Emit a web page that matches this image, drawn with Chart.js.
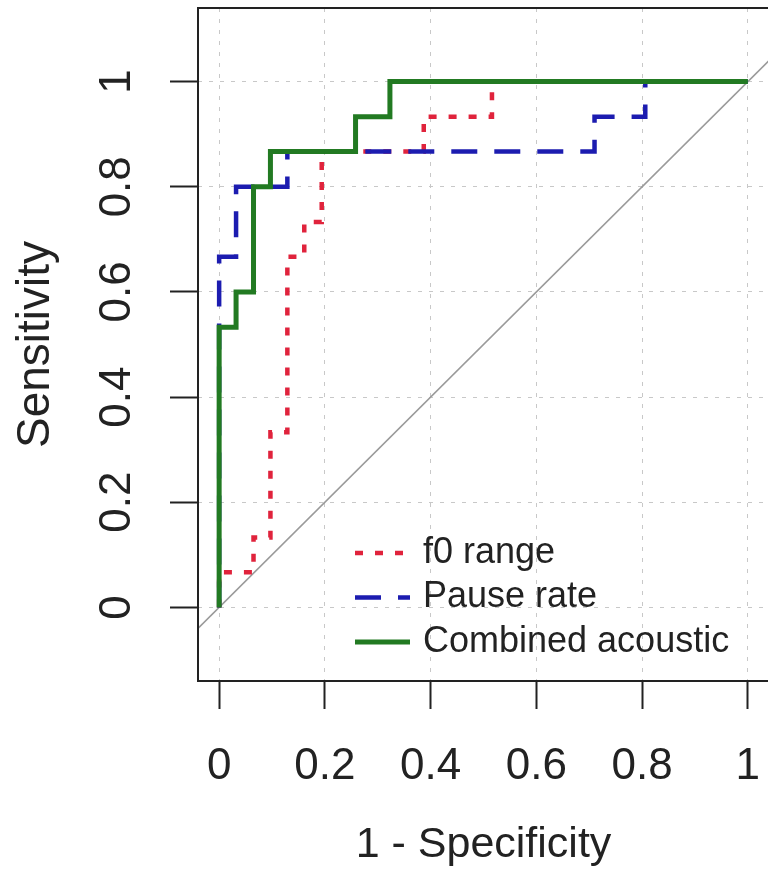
<!DOCTYPE html>
<html>
<head>
<meta charset="utf-8">
<script src="https://cdn.jsdelivr.net/npm/chart.js@4.4.0/dist/chart.umd.min.js"></script>
<style>
  html, body { margin: 0; padding: 0; background: #fff; overflow: hidden; }
  #wrap { width: 772px; height: 873px; }
</style>
</head>
<body>
<div id="wrap"><canvas id="roc" width="772" height="873"></canvas></div>
<script>
// ROC curves, x = 1 - specificity, y = sensitivity (staircase corners)
const f0FPR    = [0, 0, 0.065, 0.097, 0.129, 0.161, 0.194, 0.387, 0.516, 1];
const f0TPR    = [0, 0.067, 0.133, 0.333, 0.667, 0.733, 0.867, 0.933, 1, 1];
const pauseFPR = [0, 0, 0.032, 0.129, 0.71, 0.806, 1];
const pauseTPR = [0, 0.667, 0.8, 0.867, 0.933, 1, 1];
const combFPR  = [0, 0, 0.032, 0.065, 0.097, 0.258, 0.323, 1];
const combTPR  = [0, 0.533, 0.6, 0.8, 0.867, 0.933, 1, 1];

// chance diagonal, drawn across the full plot range
const chanceXY = [-0.04, 1.04];

const tickValues = [0, 0.2, 0.4, 0.6, 0.8, 1];
const tickLabels = ["0", "0.2", "0.4", "0.6", "0.8", "1"];
const seriesNames = ["f0 range", "Pause rate", "Combined acoustic"];

const FONT = "'Liberation Sans', Arial, Helvetica, sans-serif";
Chart.defaults.font.family = FONT;
Chart.defaults.color = "#222";

const pts = (xs, ys) => xs.map((x, i) => ({ x: x, y: ys[i] }));

// box around the plot region (R style)
const boxPlugin = {
  id: "plotBox",
  afterDraw(chart) {
    const a = chart.chartArea, ctx = chart.ctx;
    ctx.save();
    ctx.strokeStyle = "#222";
    ctx.lineWidth = 2;
    ctx.strokeRect(a.left, a.top, a.right - a.left, a.bottom - a.top);
    ctx.restore();
  }
};

// legend inside the plot, no frame
const legendPlugin = {
  id: "rocLegend",
  afterDatasetsDraw(chart, args, opts) {
    const ctx = chart.ctx;
    ctx.save();
    ctx.font = opts.fontSize + "px " + FONT;
    ctx.textBaseline = "middle";
    ctx.fillStyle = "#222";
    seriesNames.forEach((name, i) => {
      const ds = chart.data.datasets[i];
      const y = opts.y + i * opts.rowGap;
      ctx.beginPath();
      ctx.setLineDash(ds.borderDash || []);
      ctx.strokeStyle = ds.borderColor;
      ctx.lineWidth = ds.borderWidth;
      ctx.moveTo(opts.x, y);
      ctx.lineTo(opts.x + opts.lineLen, y);
      ctx.stroke();
      ctx.setLineDash([]);
      ctx.fillText(name, opts.x + opts.lineLen + opts.textGap, y);
    });
    ctx.restore();
  }
};

const setTicks = s => { s.ticks = tickValues.map(v => ({ value: v })); };
const tickLabel = v => tickLabels[tickValues.findIndex(t => Math.abs(t - v) < 1e-9)];

new Chart(document.getElementById("roc"), {
  type: "line",
  data: {
    datasets: [
      {
        label: seriesNames[0],
        data: pts(f0FPR, f0TPR),
        borderColor: "#e0233c",
        borderWidth: 4.5,
        borderDash: [8, 12],
        stepped: "before",
        pointRadius: 0,
        order: 2
      },
      {
        label: seriesNames[1],
        data: pts(pauseFPR, pauseTPR),
        borderColor: "#1c1cb0",
        borderWidth: 4.5,
        borderDash: [26, 17],
        stepped: "before",
        pointRadius: 0,
        order: 1
      },
      {
        label: seriesNames[2],
        data: pts(combFPR, combTPR),
        borderColor: "#227a22",
        borderWidth: 5,
        stepped: "before",
        pointRadius: 0,
        order: 0
      },
      {
        label: "chance",
        data: pts(chanceXY, chanceXY),
        borderColor: "#9a9a9a",
        borderWidth: 1.5,
        pointRadius: 0,
        order: 3
      }
    ]
  },
  options: {
    responsive: false,
    animation: false,
    layout: { padding: { top: 8, right: 3, left: 0, bottom: 0 } },
    plugins: {
      legend: { display: false },
      tooltip: { enabled: false },
      rocLegend: { x: 355, y: 553, rowGap: 44.5, lineLen: 55, textGap: 13, fontSize: 36 }
    },
    scales: {
      x: {
        type: "linear",
        min: -0.04,
        max: 1.04,
        afterBuildTicks: setTicks,
        afterFit: s => { s.height = 192; s.paddingLeft = 0; s.paddingRight = 0; },
        ticks: {
          callback: tickLabel,
          font: { size: 44 },
          padding: 31,
          maxRotation: 0,
          autoSkip: false
        },
        grid: { color: "#c8c8c8", lineWidth: 1, tickLength: 28, tickColor: "#222", tickWidth: 2 },
        border: { display: false, dash: [4, 7] },
        title: { display: true, text: "1 - Specificity", font: { size: 43 }, padding: { top: 0, bottom: 2 } }
      },
      y: {
        type: "linear",
        min: -0.14,
        max: 1.14,
        afterBuildTicks: setTicks,
        afterFit: s => { s.width = 198; s.paddingTop = 0; s.paddingBottom = 0; },
        ticks: {
          callback: tickLabel,
          font: { size: 44 },
          padding: 22,
          minRotation: 90,
          maxRotation: 90,
          crossAlign: "center",
          autoSkip: false
        },
        grid: { color: "#c8c8c8", lineWidth: 1, tickLength: 28, tickColor: "#222", tickWidth: 2 },
        border: { display: false, dash: [4, 7] },
        title: { display: true, text: "Sensitivity", font: { size: 46 }, padding: { top: 9, bottom: 0 } }
      }
    }
  },
  plugins: [boxPlugin, legendPlugin]
});
</script>
</body>
</html>
